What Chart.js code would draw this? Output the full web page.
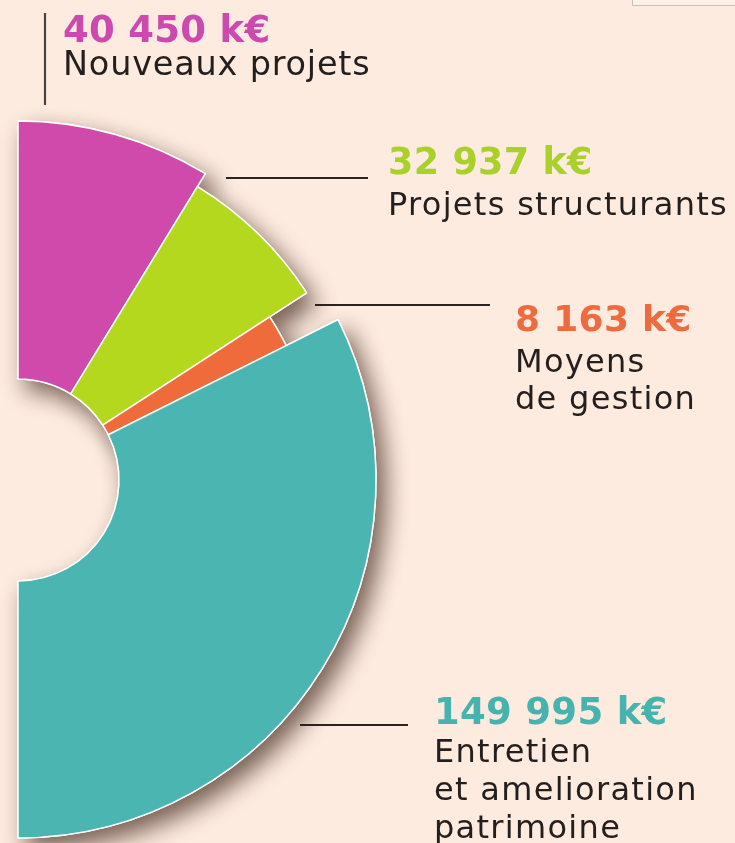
<!DOCTYPE html>
<html lang="fr">
<head>
<meta charset="UTF-8">
<meta name="viewport" content="width=device-width, initial-scale=1.0">
<title>Répartition des investissements</title>
<script src="https://cdn.jsdelivr.net/npm/chart.js"></script>
<style>
  html, body {
    margin: 0;
    padding: 0;
    background: #fdebdf;
    overflow: hidden;
  }
  #wrap {
    position: relative;
    width: 735px;
    height: 843px;
  }
  #corner {
    position: absolute;
    left: 632px;
    top: -3px;
    width: 110px;
    height: 7px;
    background: #fdf0e7;
    border: 1px solid #c9c1bb;
  }
</style>
</head>
<body>
<div id="wrap">
  <canvas id="budgetChart" width="735" height="843"></canvas>
  <div id="corner"></div>
</div>
<script>
// data (k€)
const categories = [
  ['Nouveaux projets'],
  ['Projets structurants'],
  ['Moyens', 'de gestion'],
  ['Entretien', 'et amelioration', 'patrimoine']
];
const amounts = [40450, 32937, 8163, 149995];
const sliceColors = ['#d04aab', '#b4d81e', '#f06b3b', '#4bb6b1'];
const valueColors = ['#cc4aae', '#a9d02b', '#ee6b3f', '#46b3ae'];

// look of the slices: each one sticks out a different amount
const outerRadius = 359;
const innerRadius = 101;
const sliceRadius = [359, 344, 300, 358];

// where the annotations sit
const labelLayout = [
  { x: 63, y: 42, valueSize: 37, textSize: 33.5, textSpacing: 0.8, firstGap: 33, lineGap: 37 },
  { x: 388, y: 174, valueSize: 36.5, textSize: 32, textSpacing: 1.3, firstGap: 41, lineGap: 37 },
  { x: 515, y: 331, valueSize: 36, textSize: 32, textSpacing: 1.3, firstGap: 41, lineGap: 37 },
  { x: 434, y: 724, valueSize: 37, textSize: 32, textSpacing: 1.3, firstGap: 38, lineGap: 38 }
];
const leaderLines = [
  [45, 13, 45, 105],
  [226, 178, 368, 178],
  [315, 305, 490, 305],
  [300, 725, 408, 725]
];

function formatAmount(v) {
  return String(v).replace(/\B(?=(\d{3})+(?!\d))/g, ' ') + ' k€';
}

const sliceDepth = {
  id: 'sliceDepth',
  afterDatasetsUpdate(chart) {
    chart.getDatasetMeta(0).data.forEach((arc, i) => {
      arc.outerRadius = sliceRadius[i];
    });
  }
};

// draw the slices once with a drop shadow, the normal pass covers them again
const shadowPass = {
  id: 'shadowPass',
  beforeDatasetsDraw(chart) {
    const ctx = chart.ctx;
    ctx.save();
    ctx.shadowColor = 'rgba(65, 40, 30, 0.7)';
    ctx.shadowBlur = 22;
    ctx.shadowOffsetX = 9;
    ctx.shadowOffsetY = 11;
    chart.getDatasetMeta(0).data.forEach(arc => arc.draw(ctx));
    ctx.restore();
  }
};

const annotations = {
  id: 'annotations',
  afterDraw(chart) {
    const ctx = chart.ctx;
    ctx.save();
    leaderLines.forEach((l, i) => {
      ctx.beginPath();
      ctx.strokeStyle = i === 0 ? '#4a4240' : '#2b2321';
      ctx.lineWidth = 2.2;
      ctx.moveTo(l[0], l[1]);
      ctx.lineTo(l[2], l[3]);
      ctx.stroke();
    });
    ctx.textBaseline = 'alphabetic';
    ctx.textAlign = 'left';
    labelLayout.forEach((p, i) => {
      ctx.font = 'bold ' + p.valueSize + 'px "DejaVu Sans"';
      ctx.letterSpacing = '0.3px';
      ctx.fillStyle = valueColors[i];
      ctx.fillText(formatAmount(amounts[i]), p.x, p.y);
      ctx.font = p.textSize + 'px "DejaVu Sans"';
      ctx.letterSpacing = p.textSpacing + 'px';
      ctx.fillStyle = '#231f1f';
      let y = p.y + p.firstGap;
      categories[i].forEach(line => {
        ctx.fillText(line, p.x, y);
        y += p.lineGap;
      });
    });
    ctx.restore();
  }
};

const ctx = document.getElementById('budgetChart').getContext('2d');
new Chart(ctx, {
  type: 'doughnut',
  data: {
    labels: categories.map(c => c.join(' ')),
    datasets: [{
      data: amounts,
      backgroundColor: sliceColors,
      borderColor: '#ffffff',
      borderWidth: 1.5,
      hoverOffset: 0
    }]
  },
  options: {
    responsive: false,
    animation: false,
    events: [],
    rotation: 0,
    circumference: 180,
    radius: outerRadius,
    cutout: (innerRadius / outerRadius * 100) + '%',
    layout: {
      padding: { left: 0, right: 340, top: 117, bottom: 0 }
    },
    plugins: {
      legend: { display: false },
      tooltip: { enabled: false }
    }
  },
  plugins: [sliceDepth, shadowPass, annotations]
});
</script>
</body>
</html>
